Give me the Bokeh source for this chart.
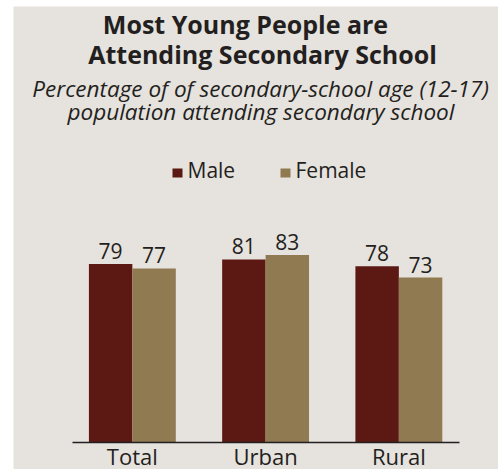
from bokeh.plotting import figure
from bokeh.models import Range1d, FixedTicker, Label, LabelSet, ColumnDataSource, BoxAnnotation
from bokeh.core.properties import value
from bokeh.transform import dodge
from bokeh.embed import file_html
from bokeh.resources import INLINE

categories = ["Total", "Urban", "Rural"]
male = [79, 81, 78]
female = [77, 83, 73]
series_names = ["Male", "Female"]
title_lines = ["Most Young People are", "Attending Secondary School"]
subtitle_lines = ["Percentage of of secondary-school age  (12-17)",
                  "population attending secondary school"]

BG = "#E6E2DD"
MALE_C = "#5C1914"
FEMALE_C = "#8F7A52"
TXT = "#231F20"
FONT = "Open Sans"

W, H = 498, 469
PX_X = 133.25      # pixels per category
PX_Y = 2.26        # pixels per percentage point
X_START = -0.9895
BASE_Y = 442       # page y of the baseline
BW = 0.326

def sy(page_y, font_px=0):
    # page y (from top) -> screen y (from bottom of canvas); label anchor correction
    return H - page_y + 0.39 * font_px

idx = list(range(len(categories)))
src = ColumnDataSource(dict(x=idx, male=male, female=female,
                            male_txt=[str(v) for v in male],
                            female_txt=[str(v) for v in female]))

p = figure(width=W, height=H,
           x_range=Range1d(X_START, X_START + W / PX_X),
           y_range=Range1d(-(H - BASE_Y) / PX_Y, BASE_Y / PX_Y),
           output_backend="svg", toolbar_location=None, title_location=None,
           min_border_left=0, min_border_right=0,
           min_border_top=0, min_border_bottom=0)
p.background_fill_color = "white"
p.border_fill_color = "white"
p.outline_line_color = None
p.xgrid.visible = False
p.ygrid.visible = False
p.yaxis.visible = False

# grey panel
p.add_layout(BoxAnnotation(left=13, right=W, bottom=0, top=sy(6),
                           left_units="screen", right_units="screen",
                           bottom_units="screen", top_units="screen",
                           fill_color=BG, fill_alpha=1, line_color=None,
                           level="underlay"))

p.vbar(x=dodge("x", -BW / 2, range=p.x_range), top="male", width=BW,
       source=src, fill_color=MALE_C, line_color=None)
p.vbar(x=dodge("x", BW / 2, range=p.x_range), top="female", width=BW,
       source=src, fill_color=FEMALE_C, line_color=None)

for col, off in (("male", -BW / 2), ("female", BW / 2)):
    p.add_layout(LabelSet(x=dodge("x", off, range=p.x_range), y=col, text=col + "_txt",
                          source=src, y_offset=5, text_align="center",
                          text_baseline="alphabetic", text_font=value(FONT),
                          text_font_size="21px", text_color=TXT))

ax = p.xaxis[0]
ax.fixed_location = 0
ax.bounds = (-0.449, 2.453)
ax.ticker = FixedTicker(ticks=idx)
ax.major_label_overrides = {i: c for i, c in zip(idx, categories)}
ax.major_tick_line_color = None
ax.minor_tick_line_color = None
ax.axis_line_color = TXT
ax.axis_line_width = 1.5
ax.major_label_text_font = FONT
ax.major_label_text_font_size = "22px"
ax.major_label_text_color = TXT
ax.major_label_standoff = -8

# titles (screen units)
for txt, x, y in ((title_lines[0], 245, 33), (title_lines[1], 262, 63)):
    p.add_layout(Label(x=x, y=sy(y, 25), x_units="screen", y_units="screen", text=txt,
                       text_align="center", text_baseline="alphabetic",
                       text_font=FONT, text_font_style="bold",
                       text_font_size="25px", text_color=TXT))
for txt, x, y in ((subtitle_lines[0], 263, 97), (subtitle_lines[1], 260.5, 120)):
    p.add_layout(Label(x=x, y=sy(y, 22.5), x_units="screen", y_units="screen", text=txt,
                       text_align="center", text_baseline="alphabetic",
                       text_font=FONT, text_font_style="italic",
                       text_font_size="22.5px", text_color=TXT))

# legend
for name, color, bx, tx in ((series_names[0], MALE_C, 172, 187),
                            (series_names[1], FEMALE_C, 280, 295)):
    p.add_layout(BoxAnnotation(left=bx, right=bx + 10, bottom=sy(177), top=sy(168),
                               left_units="screen", right_units="screen",
                               bottom_units="screen", top_units="screen",
                               fill_color=color, fill_alpha=1, line_color=None))
    p.add_layout(Label(x=tx, y=sy(178, 21), x_units="screen", y_units="screen", text=name,
                       text_align="left", text_baseline="alphabetic",
                       text_font=FONT, text_font_size="21px", text_color=TXT))

open("out.html", "w").write(file_html(p, INLINE))
